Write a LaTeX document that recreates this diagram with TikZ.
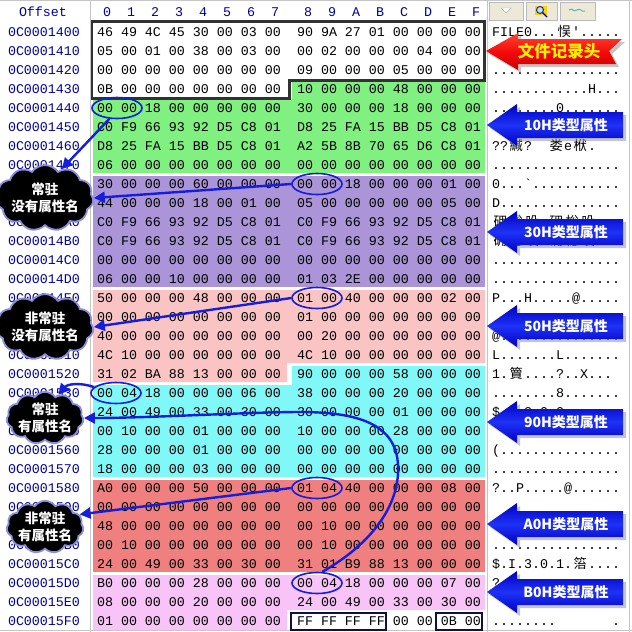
\documentclass[tikz,border=0pt]{standalone}
\usepackage{fontspec}
\usetikzlibrary{arrows.meta,shapes.geometric,shapes.symbols}
\newfontfamily\hexfont{Liberation Mono}
\newfontfamily\cjk{Noto Sans CJK SC}
\newcommand\cj[1]{\makebox[16pt]{\cjk #1}}
\definecolor{ofsblue}{RGB}{0,0,160}
\definecolor{hgreen}{RGB}{128,240,128}
\definecolor{hpurple}{RGB}{172,148,216}
\definecolor{hpink}{RGB}{250,196,196}
\definecolor{hcyan}{RGB}{128,248,248}
\definecolor{hred}{RGB}{240,128,128}
\definecolor{hmag}{RGB}{248,196,248}
\definecolor{linkblue}{RGB}{20,30,220}
\definecolor{boxgray}{RGB}{50,50,50}
\definecolor{navybox}{RGB}{16,16,70}
\definecolor{calldark}{RGB}{0,0,195}
\definecolor{calllight}{RGB}{30,50,245}
\definecolor{btnface}{RGB}{236,233,216}
\definecolor{cloudedge}{RGB}{140,140,220}
\def\hexrows{
0/1400/46 49 4C 45 30 00 03 00/90 9A 27 01 00 00 00 00,
1/1410/05 00 01 00 38 00 03 00/00 02 00 00 00 04 00 00,
2/1420/00 00 00 00 00 00 00 00/09 00 00 00 05 00 00 00,
3/1430/0B 00 00 00 00 00 00 00/10 00 00 00 48 00 00 00,
4/1440/00 00 18 00 00 00 00 00/30 00 00 00 18 00 00 00,
5/1450/C0 F9 66 93 92 D5 C8 01/D8 25 FA 15 BB D5 C8 01,
6/1460/D8 25 FA 15 BB D5 C8 01/A2 5B 8B 70 65 D6 C8 01,
7/1470/06 00 00 00 00 00 00 00/00 00 00 00 00 00 00 00,
8/1480/30 00 00 00 60 00 00 00/00 00 18 00 00 00 01 00,
9/1490/44 00 00 00 18 00 01 00/05 00 00 00 00 00 05 00,
10/14A0/C0 F9 66 93 92 D5 C8 01/C0 F9 66 93 92 D5 C8 01,
11/14B0/C0 F9 66 93 92 D5 C8 01/C0 F9 66 93 92 D5 C8 01,
12/14C0/00 00 00 00 00 00 00 00/00 00 00 00 00 00 00 00,
13/14D0/06 00 00 10 00 00 00 00/01 03 2E 00 00 00 00 00,
14/14E0/50 00 00 00 48 00 00 00/01 00 40 00 00 00 02 00,
15/14F0/00 00 00 00 00 00 00 00/01 00 00 00 00 00 00 00,
16/1500/40 00 00 00 00 00 00 00/00 20 00 00 00 00 00 00,
17/1510/4C 10 00 00 00 00 00 00/4C 10 00 00 00 00 00 00,
18/1520/31 02 BA 88 13 00 00 00/90 00 00 00 58 00 00 00,
19/1530/00 04 18 00 00 00 06 00/38 00 00 00 20 00 00 00,
20/1540/24 00 49 00 33 00 30 00/30 00 00 00 01 00 00 00,
21/1550/00 10 00 00 01 00 00 00/10 00 00 00 28 00 00 00,
22/1560/28 00 00 00 01 00 00 00/00 00 00 00 00 00 00 00,
23/1570/18 00 00 00 03 00 00 00/00 00 00 00 00 00 00 00,
24/1580/A0 00 00 00 50 00 00 00/01 04 40 00 00 00 08 00,
25/1590/00 00 00 00 00 00 00 00/00 00 00 00 00 00 00 00,
26/15A0/48 00 00 00 00 00 00 00/00 10 00 00 00 00 00 00,
27/15B0/00 10 00 00 00 00 00 00/00 10 00 00 00 00 00 00,
28/15C0/24 00 49 00 33 00 30 00/31 01 B9 88 13 00 00 00,
29/15D0/B0 00 00 00 28 00 00 00/00 04 18 00 00 00 07 00,
30/15E0/08 00 00 00 20 00 00 00/24 00 49 00 33 00 30 00,
31/15F0/01 00 00 00 00 00 00 00/FF FF FF FF 00 00 0B 00}
\def\textrows{
0/{FILE0...\cj{悮}'.....},
2/{................},
3/{............H...},
4/{........0.......},
6/{??\cj{緘}?~~\cj{娄}e\cj{栿}.},
7/{................},
8/{0...`...........},
9/{D...............},
10/{\cj{砽}\cj{棇}\cj{吺}~\cj{砽}\cj{棇}\cj{吺}},
11/{\cj{砽}\cj{棇}\cj{吺}~\cj{砽}\cj{棇}\cj{吺}},
12/{................},
13/{................},
14/{P...H.....@.....},
16/{@...............},
17/{L.......L.......},
18/{1.\cj{簤}....?..X...},
19/{........8.......},
20/{\$.I.3.0.0.......},
22/{(...............},
23/{................},
24/{?..P.....@......},
27/{................},
28/{\$.I.3.0.1.\cj{箈}....},
29/{?...............},
31/{........~~~~~~~.}}
\newcommand\bcall[3]{%
  \fill[black!45,opacity=.5,shift={(3,3)}] (487,#1) -- (517,#1-21) -- (517,#1-13) -- (623,#1-13) -- (623,#1+13) -- (517,#1+13) -- (517,#1+21) -- cycle;
  \shade[top color=calldark,bottom color=calldark,middle color=calllight] (487,#1) -- (517,#1-21) -- (517,#1-13) -- (623,#1-13) -- (623,#1+13) -- (517,#1+13) -- (517,#1+21) -- cycle;
  \node[calltext] (#2) at (566,#1) {#3};}
\begin{document}
\begin{tikzpicture}[x=1pt,y=-1pt,
  hx/.style={font=\hexfont\fontsize{13.33}{14}\selectfont,inner sep=0pt,anchor=base},
  calltext/.style={font=\cjk\bfseries\fontsize{14}{16}\selectfont,text=white,inner sep=0pt},
  cloudnode/.style={cloud,cloud puffs=11,cloud puff arc=110,aspect=1.7,fill=black,draw=cloudedge,
    line width=1.8pt,inner sep=-1pt,align=center,text=white,font=\cjk\bfseries\fontsize{13.5}{17}\selectfont},
  ell/.style={ellipse,draw=linkblue,line width=1.6pt,minimum width=50pt,minimum height=21pt,inner sep=0pt},
  conn/.style={draw=linkblue,line width=2.4pt,-{Triangle[length=11pt,width=11pt]}},
  btn/.style={draw=gray!55,fill=btnface,line width=.6pt}]
\useasboundingbox (0,0) rectangle (632,632);
\fill[white] (0,0) rectangle (632,632);
% coloured attribute regions
\fill[hgreen] (292,82) -- (485,82) -- (485,173) -- (93,173) -- (93,100) -- (292,100) -- cycle;
\fill[hpurple] (93,176) rectangle (485,287);
\fill[hpink] (93,290) -- (485,290) -- (485,363) -- (287,363) -- (287,382) -- (93,382) -- cycle;
\fill[hcyan] (292,366) -- (485,366) -- (485,477) -- (93,477) -- (93,385) -- (292,385) -- cycle;
\fill[hred] (93,480) rectangle (485,572);
\fill[hmag] (93,575) -- (485,575) -- (485,610) -- (287,610) -- (287,630) -- (93,630) -- cycle;
% record header outline
\draw[boxgray,line width=3pt] (91,21) -- (484,21) -- (484,80) -- (289,80) -- (289,98) -- (91,98) -- cycle;
% frame lines
\draw[gray!45,line width=1pt] (0,0.5) -- (632,0.5);
\draw[gray!45,line width=1pt] (0,630.5) -- (632,630.5);
\draw[gray!45,line width=1pt] (90,0) -- (90,632);
\draw[gray!45,line width=1pt] (487,0) -- (487,632);
\draw[gray!45,line width=1pt] (629.5,0) -- (629.5,632);
% header
\node[hx,text=ofsblue] (hoff) at (43,16.5) {Offset};
\foreach \d [count=\k from 0] in {0,1,2,3,4,5,6,7,8,9,A,B,C,D,E,F}{
  \pgfmathsetmacro\xx{\k<8 ? 107+24*\k : 308+24*(\k-8)}
  \node[hx,text=ofsblue] (h\d) at (\xx,16.5) {\d};}
% buttons
\draw[btn] (489,2) rectangle (523,20);
\fill[white,draw=gray!60] (501,8) -- (511,8) -- (506,13) -- cycle;
\draw[btn] (526,2) rectangle (557,20);
\fill[yellow!70!orange] (535,6) rectangle (547,15);
\draw[blue!70!black,fill=cyan!30,line width=.8pt] (540,10) circle (3.5);
\draw[blue!70!black,line width=1.4pt] (542.5,12.5) -- (547,17);
\draw[btn] (560,2) rectangle (595,20);
\draw[teal!70,line width=.8pt] (569,10) .. controls (572,7) and (574,13) .. (577,10) .. controls (580,7) and (582,13) .. (585,11);
% hex dump
\foreach \i/\o/\a/\b in \hexrows{
  \node[hx,text=ofsblue] (o\i) at (44,36.5+19*\i) {0C000\o};
  \node[hx] (l\i) at (189,36.5+19*\i) {\a};
  \node[hx] (r\i) at (389,36.5+19*\i) {\b};}
% text pane
\foreach \i/\t in \textrows{
  \node[hx,anchor=base west] (t\i) at (492,36.5+19*\i) {\t};}
% boxes in last row
\draw[navybox,line width=1.8pt] (291,613) rectangle (386,630);
\draw[navybox,line width=1.8pt] (436,613) rectangle (482,630);
% ellipses
\node[ell] (e1) at (117,108) {};
\node[ell] (e2) at (317,184) {};
\node[ell] (e3) at (317,298) {};
\node[ell] (e4) at (116,393) {};
\node[ell] (e5) at (317,488) {};
\node[ell] (e6) at (317,583) {};
% callouts
\fill[black!45,opacity=.5,shift={(3,3)}] (486,51) -- (518,33) -- (518,39) -- (622,39) -- (609,51) -- (616,64) -- (518,64) -- (518,70) -- cycle;
\shade[top color={rgb,255:red,255;green,70;blue,50},bottom color={rgb,255:red,200;green,0;blue,0},middle color={rgb,255:red,245;green,10;blue,10}]
  (486,51) -- (518,33) -- (518,39) -- (622,39) -- (609,51) -- (616,64) -- (518,64) -- (518,70) -- cycle;
\node[font=\cjk\bfseries\fontsize{16.5}{18}\selectfont,text=yellow,inner sep=0pt] (khdr) at (559,51) {文件记录头};
\bcall{125}{k10}{10H类型属性}
\bcall{232}{k30}{30H类型属性}
\bcall{326}{k50}{50H类型属性}
\bcall{422}{k90}{90H类型属性}
\bcall{524}{ka0}{A0H类型属性}
\bcall{592}{kb0}{B0H类型属性}
% clouds
\node[cloudnode] (c1) at (45,198) {常驻\\没有属性名};
\node[cloudnode] (c2) at (45,327) {非常驻\\没有属性名};
\node[cloudnode] (c3) at (45,418) {常驻\\有属性名};
\node[cloudnode] (c4) at (45,527) {非常驻\\有属性名};
% connectors
\draw[conn] (e1.235) -- (c1.60);
\draw[conn] (e2.west) -- (c1.east);
\draw[conn] (e3.west) -- (c2.east);
\draw[conn] (e4.165) to[out=160,in=50] (c3.60);
\draw[conn] (e5.west) -- (c4.20);
\draw[conn] (e6.65) .. controls (378,540) and (400,500) .. (398,465) .. controls (396,425) and (360,412) .. (300,412) .. controls (250,412) and (150,418) .. (c3.east);
\end{tikzpicture}
\end{document}
